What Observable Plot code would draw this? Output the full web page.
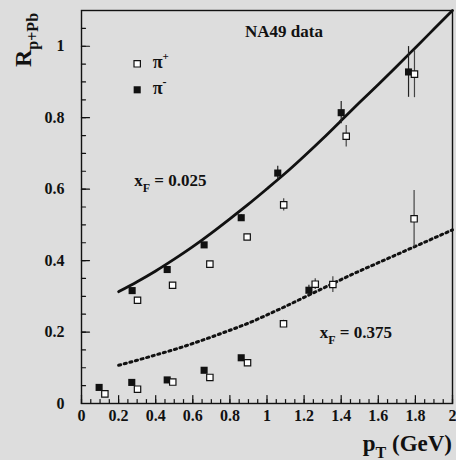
<!DOCTYPE html>
<html><head><meta charset="utf-8">
<script src="https://cdn.jsdelivr.net/npm/d3@7"></script>
<script src="https://cdn.jsdelivr.net/npm/@observablehq/plot@0.6"></script>
<style>
html,body{margin:0;padding:0;background:#dddddd;}
#chart{width:456px;height:460px;overflow:hidden;}
</style></head><body><div id="chart"></div>
<script>
// ---- data ----
// x_F = 0.025
const piMinus025_pt  = [0.273, 0.462, 0.661, 0.861, 1.058, 1.400, 1.763];
const piMinus025_R   = [0.316, 0.375, 0.444, 0.520, 0.645, 0.814, 0.928];
const piMinus025_err = [0.006, 0.006, 0.006, 0.008, 0.019, 0.031, 0.071];
const piPlus025_pt   = [0.302, 0.491, 0.692, 0.893, 1.090, 1.427, 1.795];
const piPlus025_R    = [0.289, 0.331, 0.390, 0.466, 0.556, 0.748, 0.922];
const piPlus025_err  = [0.006, 0.006, 0.006, 0.008, 0.017, 0.030, 0.066];
// x_F = 0.375
const piMinus375_pt  = [0.095, 0.271, 0.462, 0.661, 0.861, 1.226];
const piMinus375_R   = [0.045, 0.059, 0.066, 0.093, 0.128, 0.317];
const piMinus375_err = [0.004, 0.004, 0.004, 0.005, 0.006, 0.014];
const piPlus375_pt   = [0.126, 0.302, 0.492, 0.692, 0.895, 1.089, 1.260, 1.355, 1.793];
const piPlus375_R    = [0.027, 0.040, 0.060, 0.073, 0.114, 0.223, 0.334, 0.333, 0.517];
const piPlus375_err  = [0.004, 0.004, 0.004, 0.005, 0.006, 0.010, 0.015, 0.022, 0.079];
// curves
const curve_pt   = [0.2,0.3,0.4,0.5,0.6,0.7,0.8,0.9,1.0,1.1,1.2,1.3,1.4,1.5,1.6,1.7,1.8,1.9,2.0];
const curve025_R = [0.313,0.341,0.371,0.404,0.439,0.477,0.517,0.558,0.601,0.645,0.692,0.741,0.792,0.843,0.893,0.944,0.996,1.048,1.100];
const curve375_R = [0.107,0.121,0.136,0.151,0.168,0.186,0.205,0.225,0.248,0.272,0.297,0.322,0.347,0.371,0.394,0.417,0.440,0.463,0.486];
// ticks
const xTicks = [0,0.2,0.4,0.6,0.8,1,1.2,1.4,1.6,1.8,2];
const yTicks = [0,0.2,0.4,0.6,0.8,1];
const xMinor = d3.range(0,41).map(i=>i*0.05);
const yMinor = d3.range(0,23).map(i=>i*0.05);

const pts = (xs, ys, es) => xs.map((x,i)=>({x, y: ys[i], e: es[i]}));
const m025 = pts(piMinus025_pt, piMinus025_R, piMinus025_err);
const p025 = pts(piPlus025_pt, piPlus025_R, piPlus025_err);
const m375 = pts(piMinus375_pt, piMinus375_R, piMinus375_err);
const p375 = pts(piPlus375_pt, piPlus375_R, piPlus375_err);
const c025 = curve_pt.map((x,i)=>({x, y: curve025_R[i]}));
const c375 = curve_pt.map((x,i)=>({x, y: curve375_R[i]}));

const INK = "#111";
const tickUp = {draw(ctx, l){ ctx.moveTo(0,0); ctx.lineTo(0,-l); }};
const mL = 81, mT = 10;

const plot = Plot.plot({
  width: 456, height: 460,
  marginLeft: mL, marginRight: 4, marginTop: mT, marginBottom: 57,
  style: {background:"transparent", fontFamily:"'Liberation Serif','Times New Roman',serif", fontWeight:"bold", fontSize:"16px", color:INK},
  x: {domain:[0,2], ticks: xTicks, tickSize:0, tickPadding:6, tickFormat: d=>String(d), label:null},
  y: {domain:[0,1.1], ticks: yTicks, tickSize:0, tickPadding:17, tickFormat: d=>String(d), label:null},
  marks: [
    Plot.line(c375, {x:"x", y:"y", curve:"natural", stroke:INK, strokeWidth:3, strokeDasharray:"2.2,3.6"}),
    Plot.line(c025, {x:"x", y:"y", curve:"natural", stroke:INK, strokeWidth:2.8}),
    Plot.ruleX([...m025, ...m375], {x:"x", y1:d=>d.y-d.e, y2:d=>d.y+d.e, stroke:"#222", strokeWidth:1.2}),
    Plot.ruleX([...p025, ...p375], {x:"x", y1:d=>d.y-d.e, y2:d=>d.y+d.e, stroke:"#444", strokeWidth:1.2}),
    Plot.dot([...m025, ...m375], {x:"x", y:"y", symbol:"square", r:4, fill:INK, stroke:"none"}),
    Plot.dot([...p025, ...p375], {x:"x", y:"y", symbol:"square", r:3.6, fill:"white", stroke:INK, strokeWidth:1.2}),
    // inner ticks
    Plot.vector(xMinor, {x:d=>d, frameAnchor:"bottom", anchor:"start", rotate:0, length:4, shape:tickUp, stroke:INK, strokeWidth:1.2}),
    Plot.vector(xTicks, {x:d=>d, frameAnchor:"bottom", anchor:"start", rotate:0, length:8, shape:tickUp, stroke:INK, strokeWidth:1.2}),
    Plot.vector(yMinor, {y:d=>d, frameAnchor:"left", anchor:"start", rotate:90, length:4, shape:tickUp, stroke:INK, strokeWidth:1.2}),
    Plot.vector(yTicks, {y:d=>d, frameAnchor:"left", anchor:"start", rotate:90, length:8, shape:tickUp, stroke:INK, strokeWidth:1.2}),
    Plot.frame({stroke:INK, strokeWidth:1.4}),
    // legend markers
    Plot.dot([0], {frameAnchor:"top-left", dx:55.7, dy:53.3, symbol:"square", r:3.6, fill:"white", stroke:INK, strokeWidth:1.2}),
    Plot.dot([0], {frameAnchor:"top-left", dx:55.7, dy:79.3, symbol:"square", r:4, fill:INK})
  ]
});
document.getElementById("chart").appendChild(plot);

const svg = d3.select(plot);
const sx = plot.scale("x"), sy = plot.scale("y");
const FONT = "'Liberation Serif','Times New Roman',serif";
function label(x, y, parts, opts = {}) {
  const t = svg.append("text").attr("x", x).attr("y", y)
    .attr("font-family", FONT).attr("font-weight", "bold").attr("fill", INK)
    .attr("text-anchor", opts.anchor || "start");
  if (opts.transform) t.attr("transform", opts.transform).attr("x", 0).attr("y", 0);
  parts.forEach(p => t.append("tspan").attr("font-size", p.size).attr("dy", p.dy || 0).text(p.text));
  return t;
}
// annotations (positions in data units through the scales)
label(sx.apply(0.884), sy.apply(1.024), [{text:"NA49 data", size:17}]);
label(sx.apply(0.287), sy.apply(0.606), [{text:"x", size:17},{text:"F", size:12, dy:6},{text:" = 0.025", size:17, dy:-6}]);
label(sx.apply(1.287), sy.apply(0.182), [{text:"x", size:17},{text:"F", size:12, dy:6},{text:" = 0.375", size:17, dy:-6}]);
// legend texts
label(mL + 71.7, mT + 58.3, [{text:"π", size:18},{text:"+", size:11, dy:-8}]);
label(mL + 71.7, mT + 84.3, [{text:"π", size:18},{text:"-", size:12, dy:-8}]);
// axis titles
label(0, 0, [{text:"R", size:24},{text:"p+Pb", size:16, dy:7}], {transform:"translate(31,67) rotate(-90)"});
label(452, 451, [{text:"p", size:23},{text:"T", size:16, dy:7},{text:" (GeV)", size:23, dy:-7}], {anchor:"end"});
</script>
</body></html>
